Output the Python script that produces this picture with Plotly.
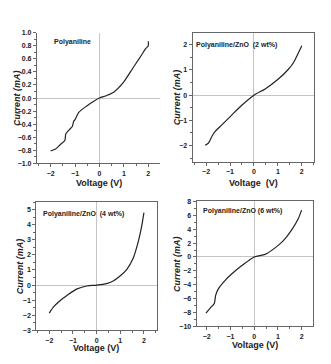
import plotly.graph_objects as go

# Panel 1: Polyaniline
v1 = [-2.0, -1.8, -1.6, -1.42, -1.38, -1.2, -1.12, -1.05, -1.0, -0.85, -0.52, -0.2, 0.0, 0.3, 0.58, 0.98, 1.37, 1.64, 1.9, 2.0, 2.0]
i1 = [-0.81, -0.78, -0.71, -0.65, -0.55, -0.47, -0.44, -0.35, -0.33, -0.22, -0.12, -0.04, 0.0, 0.04, 0.09, 0.24, 0.46, 0.61, 0.76, 0.80, 0.87]
# Panel 2: Polyaniline/ZnO (2 wt%)
v2 = [-2.04, -1.9, -1.76, -1.62, -1.34, -0.93, -0.51, 0.0, 0.47, 1.02, 1.44, 1.65, 1.79, 2.0]
i2 = [-1.99, -1.9, -1.64, -1.44, -1.18, -0.79, -0.40, 0.0, 0.25, 0.64, 1.03, 1.29, 1.55, 1.96]
# Panel 3: Polyaniline/ZnO (4 wt%)
v3 = [-2.0, -1.83, -1.55, -1.27, -0.85, -0.42, 0.0, 0.42, 0.7, 0.99, 1.27, 1.55, 1.76, 1.9, 2.0]
i3 = [-1.86, -1.47, -1.04, -0.71, -0.27, -0.06, 0.0, 0.1, 0.27, 0.6, 1.03, 1.8, 2.88, 3.86, 4.8]
# Panel 4: Polyaniline/ZnO (6 wt%)
v4 = [-2.03, -1.86, -1.68, -1.62, -1.51, -1.23, -0.95, -0.53, 0.0, 0.46, 0.88, 1.23, 1.58, 1.86, 2.0]
i4 = [-8.1, -7.4, -6.7, -5.5, -4.6, -3.4, -2.46, -1.28, 0.0, 0.37, 1.31, 2.35, 3.9, 5.55, 6.75]

labels = ["Polyaniline", "Polyaniline/ZnO  (2 wt%)", "Polyaniline/ZnO  (4 wt%)", "Polyaniline/ZnO (6 wt%)"]
xtitles = ["Voltage (V)", "Voltage  (V)", "Voltage (V)", "Voltage (V)"]
ytitle = "Current (mA)"

W, H = 331, 364
def px(x): return x / W
def py(y): return 1 - y / H

panels = [
    dict(v=v1, i=i1, xd=[px(37), px(160)], yd=[py(162.5), py(29.3)], xr=[-2.56, 2.48], yr=[-1.0, 1.0],
         ydt=0.2, ymin=0.1, fmt=".1f", box=False, lab=(52, 39), xt=182, yt=17),
    dict(v=v2, i=i2, xd=[px(192.7), px(314)], yd=[py(161), py(29.3)], xr=[-2.56, 2.51], yr=[-2.65, 2.48],
         ydt=1, ymin=0.5, fmt="d", box=True, lab=(194, 41.7), xt=183, yt=177),
    dict(v=v3, i=i3, xd=[px(36.3), px(156.7)], yd=[py(332.7), py(202)], xr=[-2.55, 2.54], yr=[-3, 5.5],
         ydt=1, ymin=0.5, fmt="d", box=True, lab=(40.7, 213.7), xt=351, yt=20),
    dict(v=v4, i=i4, xd=[px(196.7), px(313.3)], yd=[py(328.7), py(201.3)], xr=[-2.42, 2.49], yr=[-10, 8],
         ydt=2, ymin=1, fmt="d", box=True, lab=(201, 211), xt=348, yt=177),
]

fig = go.Figure()
tickfont = dict(family="Arial, Liberation Sans", size=7, color="#222", weight="bold")
titlefont = dict(family="Arial, Liberation Sans", size=9, color="#222")
annotations = []
for k, p in enumerate(panels):
    n = "" if k == 0 else str(k + 1)
    fig.add_trace(go.Scatter(x=p["v"], y=p["i"], mode="lines",
                             line=dict(color="#222", width=1.2, shape="spline", smoothing=0.7),
                             xaxis="x" + n, yaxis="y" + n, showlegend=False, hoverinfo="skip"))
    common = dict(showgrid=False, zeroline=True, zerolinecolor="#c4c4c4", zerolinewidth=1.3,
                  showline=True, linecolor="#666", linewidth=1.2, ticks="outside", ticklen=3,
                  tickcolor="#666", tickfont=tickfont, mirror=p["box"])
    fig.layout["xaxis" + n] = dict(common, domain=p["xd"], range=p["xr"], anchor="y" + n,
                                   tickmode="linear", tick0=-2, dtick=1,
                                   minor=dict(ticks="outside", ticklen=2, dtick=0.5, tick0=0, tickcolor="#666"))
    fig.layout["yaxis" + n] = dict(common, domain=p["yd"], range=p["yr"], anchor="x" + n,
                                   tickmode="linear", tick0=0, dtick=p["ydt"], tickformat=p["fmt"],
                                   minor=dict(ticks="outside", ticklen=2, dtick=p["ymin"], tick0=0, tickcolor="#666"))
    annotations.append(dict(text="<b>" + labels[k] + "</b>", x=px(p["lab"][0]), y=py(p["lab"][1]),
                            xref="paper", yref="paper", xanchor="left", yanchor="middle", showarrow=False,
                            font=dict(family="Arial, Liberation Sans", size=7, color="#222")))
    xc = (p["xd"][0] + p["xd"][1]) / 2
    annotations.append(dict(text="<b>" + xtitles[k] + "</b>", x=xc, y=py(p["xt"]), xref="paper", yref="paper",
                            xanchor="center", yanchor="middle", showarrow=False, font=titlefont))
    yc = (p["yd"][0] + p["yd"][1]) / 2
    annotations.append(dict(text="<b><i>" + ytitle + "</i></b>", x=px(p["yt"]), y=yc, xref="paper", yref="paper",
                            xanchor="center", yanchor="middle", showarrow=False, textangle=-90, font=titlefont))

fig.update_layout(width=W, height=H, margin=dict(l=0, r=0, t=0, b=0), paper_bgcolor="white",
                  plot_bgcolor="white", annotations=annotations)
fig.write_html("out.html")
